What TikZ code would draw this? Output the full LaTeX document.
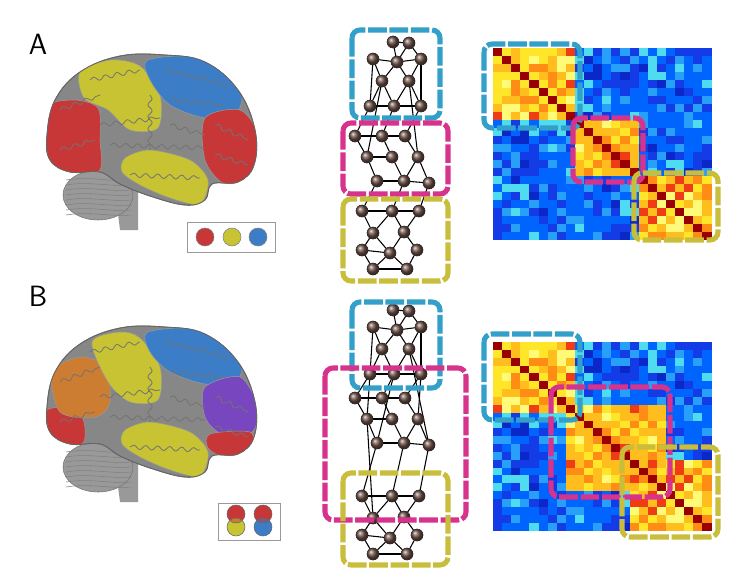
\documentclass[tikz,border=0pt]{standalone}
\usetikzlibrary{shapes.geometric,decorations.pathmorphing}
\definecolor{fteal}{RGB}{50,160,200}
\definecolor{fmag}{RGB}{215,50,140}
\definecolor{foli}{RGB}{200,190,60}
\definecolor{bred}{RGB}{200,55,55}
\definecolor{byel}{RGB}{200,195,50}
\definecolor{bblu}{RGB}{60,125,200}
\definecolor{bora}{RGB}{205,125,50}
\definecolor{bpur}{RGB}{120,70,190}
\definecolor{bgry}{RGB}{135,135,135}
\definecolor{ballc}{RGB}{110,80,70}
\definecolor{hA}{RGB}{255,230,40}
\definecolor{hB}{RGB}{255,190,30}
\definecolor{hC}{RGB}{255,140,20}
\definecolor{hD}{RGB}{240,60,20}
\definecolor{hE}{RGB}{255,250,120}
\definecolor{cA}{RGB}{20,60,230}
\definecolor{cB}{RGB}{0,100,255}
\definecolor{cC}{RGB}{40,160,250}
\definecolor{cD}{RGB}{80,220,240}
\definecolor{cE}{RGB}{10,40,200}
\tikzset{
 frame/.style={draw=#1,line width=3.8pt,rounded corners=6pt,dash pattern=on 14pt off 2pt},
 ballnode/.style={circle,inner sep=0pt,minimum size=9pt,shading=ball,ball color=ballc,draw=black!80,line width=0.3pt},
 edge/.style={draw=black,line width=0.8pt},
 lab/.style={font=\fontsize{22}{22}\sffamily},
 gyr/.style={draw=black!55,line width=0.6pt,decorate,decoration={snake,amplitude=1.6pt,segment length=9pt}},
}
\newcommand{\cellcol}[1]{\ifcase#1 hA\or hB\or hC\or hA\or hD\or hE\or hB\or hA\or hC\or hB\fi}
\newcommand{\coldcol}[1]{\ifcase#1 cA\or cB\or cC\or cA\or cD\or cE\or cB\or cA\or cC\or cB\fi}
\newcommand{\heatmat}[5]{%
 \foreach \i in {0,...,23}{\foreach \j in {0,...,23}{%
  \pgfmathtruncatemacro\rr{mod(int(abs(sin(min(\i,\j)*127+max(\i,\j)*311+7))*9973),10)}%
  \pgfmathtruncatemacro\inb{#5}%
  \ifnum\i=\j \def\cc{red!60!black}\else
   \ifnum\inb=1 \edef\cc{\cellcol{\rr}}\else \edef\cc{\coldcol{\rr}}\fi\fi
  \fill[\cc] ({#1+\i*#3},{#2+\j*#4}) rectangle ++({#3+0.3},{#4+0.3});
 }}}
\newcommand{\netnodes}[4]{%
 \foreach \n/\x/\y in {1/393/42,2/409/43,3/373/59,4/397/62,5/421/59,6/382/81,7/409/81,8/370/106,9/394/106,10/421/106}
   \node[ballnode] (#1t\n) at (\x,{\y+#2}) {};
 \foreach \n/\x/\y in {1/355/136,2/382/136,3/405/136,4/367/157,5/392/157,6/418/157,7/377/181,8/404/181,9/429/183}
   \node[ballnode] (#1m\n) at (\x,{\y+#3}) {};
 \foreach \n/\x/\y in {1/362/211,2/392/211,3/419/211,4/373/233,5/404/232,6/362/250,7/390/253,8/417/250,9/373/269,10/407/269}
   \node[ballnode] (#1o\n) at (\x,{\y+#4}) {};
}
\newcommand{\netedges}[1]{%
 \foreach \a/\b in {1/2,1/4,2/4,2/5,3/4,4/5,3/6,4/6,5/7,4/7,6/8,6/9,7/9,7/10,8/9,9/10,3/8,5/10}
   \draw[edge] (#1t\a) -- (#1t\b);
 \foreach \a/\b in {1/2,2/3,1/4,2/5,3/6,4/5,4/7,5/8,6/9,7/8,8/9,6/8}
   \draw[edge] (#1m\a) -- (#1m\b);
 \foreach \a/\b in {1/2,2/3,1/4,2/4,2/5,3/5,4/6,4/7,5/7,5/8,6/7,6/9,7/9,7/10,8/10,9/10}
   \draw[edge] (#1o\a) -- (#1o\b);
}
\newcommand{\brainshape}{plot[smooth cycle,tension=0.65] coordinates {(47,135) (55,100) (80,72) (120,56) (165,55) (205,62) (238,90) (255,130) (254,165) (238,182) (212,184) (205,200) (185,205) (150,196) (120,184) (100,172) (70,172) (50,160)}}
\newcommand{\brainbase}{%
 \fill[black!40] (115,190) -- (138,190) -- (138,230) -- (120,230) -- cycle;
 \fill[bgry!85,draw=black!55] (98,195) ellipse (35 and 25);
 \foreach \k in {0,...,7} \draw[black!50,line width=0.4pt] (66,{180+\k*5}) .. controls (90,{176+\k*5}) and (110,{182+\k*5}) .. (131,{180+\k*5});
 \fill[bgry,draw=black!60,line width=0.6pt] \brainshape;
}
\newcommand{\brainsulci}{%
 \draw[gyr] (60,110) -- (100,95);
 \draw[gyr] (90,80) -- (140,70);
 \draw[gyr] (100,125) -- (160,118);
 \draw[gyr] (150,95) -- (150,150);
 \draw[gyr] (165,70) -- (230,85);
 \draw[gyr] (170,100) -- (225,105);
 \draw[gyr] (110,145) -- (205,148);
 \draw[gyr] (130,175) -- (200,178);
 \draw[gyr] (215,125) -- (248,140);
 \draw[gyr] (215,155) -- (248,165);
 \draw[gyr] (60,150) -- (95,140);
 \draw[gyr] (170,125) -- (205,135);
}
\begin{document}
\begin{tikzpicture}[x=0.75pt,y=-0.75pt]
\useasboundingbox (0,0) rectangle (742,587);
\fill[white] (0,0) rectangle (742,587);
\node[lab] (la) at (38,44) {A};
\node[lab] (lb) at (38,296) {B};
% ---------- Brain A
\begin{scope}
 \brainbase
 \begin{scope}
 \clip \brainshape;
 \fill[bred,draw=black!40] plot[smooth cycle] coordinates {(44,110) (72,100) (98,108) (100,140) (98,172) (50,168)};
 \fill[byel,draw=black!40] plot[smooth cycle] coordinates {(80,72) (110,60) (140,66) (160,95) (158,128) (130,130) (108,110) (84,98)};
 \fill[bblu,draw=black!40] plot[smooth cycle] coordinates {(148,60) (200,58) (240,90) (235,115) (205,118) (170,105) (150,80)};
 \fill[bred,draw=black!40] plot[smooth cycle] coordinates {(205,118) (240,110) (258,135) (255,175) (225,184) (205,160)};
 \fill[byel,draw=black!40] plot[smooth cycle] coordinates {(125,158) (150,150) (190,160) (208,180) (200,204) (170,198) (140,185) (122,172)};
 \brainsulci
 \end{scope}
 \draw[black!60,line width=0.6pt] \brainshape;
\end{scope}
% legend A
\draw[black!40,line width=0.6pt] (187,222) rectangle (275,252);
\foreach \c/\x in {bred/205,byel/232,bblu/258} \fill[\c,draw=black!50] (\x,237) circle (9);
% ---------- Brain B
\begin{scope}[shift={(0,272)}]
 \brainbase
 \begin{scope}
 \clip \brainshape;
 \fill[bred,draw=black!40] plot[smooth cycle] coordinates {(44,140) (72,135) (84,150) (82,172) (50,170)};
 \fill[bora,draw=black!40] plot[smooth cycle] coordinates {(52,100) (80,85) (105,95) (110,130) (95,145) (60,140)};
 \fill[byel,draw=black!40] plot[smooth cycle] coordinates {(92,70) (120,60) (140,66) (160,95) (158,128) (130,130) (108,110)};
 \fill[bblu,draw=black!40] plot[smooth cycle] coordinates {(148,60) (200,58) (240,90) (235,110) (205,112) (170,100) (150,80)};
 \fill[bpur,draw=black!40] plot[smooth cycle] coordinates {(205,115) (240,105) (258,135) (252,160) (222,162) (205,145)};
 \fill[bred,draw=black!40] plot[smooth cycle] coordinates {(210,162) (250,160) (252,178) (225,185) (208,176)};
 \fill[byel,draw=black!40] plot[smooth cycle] coordinates {(125,158) (150,150) (190,160) (208,180) (200,204) (170,198) (140,185) (122,172)};
 \brainsulci
 \end{scope}
 \draw[black!60,line width=0.6pt] \brainshape;
\end{scope}
% legend B
\draw[black!40,line width=0.6pt] (218,503) rectangle (280,540);
\foreach \x/\c in {236/byel,263/bblu}{
 \fill[bred] (\x,514) circle (9);
 \fill[\c] (\x,527) circle (9);
 \begin{scope}\clip (\x,514) circle (9); \fill[\c!50!bred] (\x,527) circle (9);\end{scope}
 \draw[black!60] (\x,514) circle (9);
 \draw[black!60] (\x,527) circle (9);
}
% ---------- Networks
\netnodes{a}{0}{0}{0}
\netnodes{b}{268}{262}{285}
\netedges{a}
\foreach \a/\b in {t8/m1,t9/m2,t10/m3,t6/m4,m7/o1,m8/o2,m9/o3,t7/m6}\draw[edge](a\a)--(a\b);
\netedges{b}
\foreach \a/\b in {t8/m1,t9/m2,t10/m3,t8/m4,t9/m7,t10/m6,m7/o1,m8/o2,m9/o3,m4/o4,t7/m9}\draw[edge](b\a)--(b\b);
\netnodes{a}{0}{0}{0}
\netnodes{b}{268}{262}{285}
\draw[frame=fteal] (352,30) rectangle (440,118);
\draw[frame=fmag] (343,123) rectangle (448,194);
\draw[frame=foli] (343,199) rectangle (448,281);
\draw[frame=fteal] (352,302) rectangle (440,388);
\draw[frame=fmag] (325,368) rectangle (466,520);
\draw[frame=foli] (343,473) rectangle (448,565);
% ---------- Matrices
\heatmat{493}{48}{9.1}{8.0}{or(and(\i<9,\j<9),or(and(and(\i>8,\i<16),and(\j>8,\j<16)),and(\i>15,\j>15)))}
\draw[frame=fteal] (484,44) rectangle (580,128);
\draw[frame=fmag] (573,118) rectangle (643,182);
\draw[frame=foli] (634,173) rectangle (718,240);
\heatmat{493}{342}{9.1}{7.85}{or(and(\i<9,\j<9),or(and(and(\i>7,\i<19),and(\j>7,\j<19)),and(\i>14,\j>14)))}
\draw[frame=fteal] (484,334) rectangle (580,420);
\draw[frame=fmag] (551,387) rectangle (670,497);
\draw[frame=foli] (622,447) rectangle (718,537);
\end{tikzpicture}
\end{document}
